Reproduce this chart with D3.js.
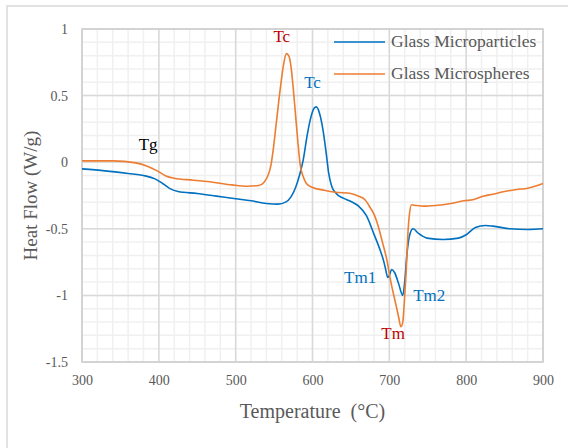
<!DOCTYPE html>
<html>
<head>
<meta charset="utf-8">
<script src="https://cdn.jsdelivr.net/npm/d3@7"></script>
<style>
  body { margin: 0; background: #fff; }
  svg text { font-family: "Liberation Serif", "DejaVu Serif", serif; }
</style>
</head>
<body>
<div id="dsc"></div>
<script>
// temperature (C) and heat flow (W/g)
var particlesTemp = [300, 330, 360, 380, 395, 405, 415, 425, 450, 475, 500, 520, 540, 555, 565, 572, 578, 583, 588, 593, 598, 602, 605, 609, 614, 618, 621, 625, 630, 640, 650, 660, 670, 680, 688, 693, 695, 698, 700, 703, 707, 712, 717.5, 720, 723, 727, 731, 738, 749, 770, 790, 800, 812, 825, 835, 857, 880, 900];
var particlesFlow = [-0.05, -0.065, -0.085, -0.1, -0.125, -0.16, -0.2, -0.22, -0.235, -0.255, -0.275, -0.29, -0.31, -0.315, -0.3, -0.26, -0.19, -0.1, 0.02, 0.2, 0.34, 0.405, 0.415, 0.37, 0.23, 0.06, -0.08, -0.18, -0.23, -0.27, -0.295, -0.33, -0.4, -0.54, -0.66, -0.75, -0.8, -0.866, -0.85, -0.806, -0.83, -0.91, -1.0, -0.9, -0.685, -0.535, -0.5, -0.535, -0.57, -0.58, -0.57, -0.545, -0.49, -0.475, -0.48, -0.5, -0.505, -0.5];

var spheresTemp = [300, 340, 370, 385, 398, 410, 420, 445, 470, 495, 515, 530, 537, 542, 546, 549, 553, 558, 562, 566, 569, 572, 575, 578, 581, 584, 588, 592, 600, 615, 630, 650, 660, 668, 675, 680, 686, 691, 697, 701, 705, 709, 712, 715, 717.5, 720, 722, 724, 726, 729, 735, 745, 760, 780, 797, 810, 822, 835, 850, 866, 880, 900];
var spheresFlow = [0.01, 0.01, -0.005, -0.03, -0.065, -0.105, -0.12, -0.135, -0.15, -0.17, -0.18, -0.175, -0.15, -0.1, -0.02, 0.1, 0.3, 0.55, 0.72, 0.815, 0.8, 0.72, 0.55, 0.35, 0.15, -0.02, -0.11, -0.16, -0.19, -0.21, -0.225, -0.235, -0.255, -0.28, -0.34, -0.39, -0.49, -0.6, -0.74, -0.87, -0.98, -1.08, -1.16, -1.235, -1.2, -1.0, -0.81, -0.55, -0.4, -0.32, -0.325, -0.33, -0.325, -0.31, -0.29, -0.28, -0.255, -0.24, -0.22, -0.205, -0.195, -0.16];

var seriesNames = ["Glass Microparticles", "Glass Microspheres"];
var seriesColors = ["#0070C0", "#ED7D31"];
var xTicks = [300, 400, 500, 600, 700, 800, 900];
var yTicks = [1, 0.5, 0, -0.5, -1, -1.5];

// peak annotations: label, temperature, heat flow position, colour
var notes = [
  ["Tg", 386, 0.09, "#000000"],
  ["Tc", 560, 0.9, "#C00000"],
  ["Tc", 600, 0.56, "#0070C0"],
  ["Tm1", 662, -0.91, "#0070C0"],
  ["Tm2", 752, -1.04, "#0070C0"],
  ["Tm", 705, -1.33, "#C00000"]
];

var svgWidth = 568;
var svgHeight = 448;
var serif = "'Liberation Serif', 'DejaVu Serif', serif";
var container = d3.select("#dsc")
    .append("svg")
    .attr("width", svgWidth)
    .attr("height", svgHeight)
    .attr("font-family", serif);

// chart area frame
container.append("rect")
    .attr("x", 7)
    .attr("y", 6)
    .attr("width", 580)
    .attr("height", 460)
    .attr("fill", "none")
    .attr("stroke", "#d9d9d9")
    .attr("stroke-width", 1.5);

var margins = {top: 29, right: 25, bottom: 86, left: 82};
var width = svgWidth - margins.left - margins.right;
var height = svgHeight - margins.top - margins.bottom;

var canvas = container.append("g")
    .attr("transform", "translate(" + margins.left + "," + margins.top + ")");

var xScale = d3.scaleLinear().domain([300, 900]).range([0, width]);
var yScale = d3.scaleLinear().domain([-1.5, 1]).range([height, 0]);

// minor grid
canvas.append("g")
    .selectAll("line")
    .data(d3.range(300, 901, 20))
    .enter().append("line")
    .attr("x1", d => xScale(d)).attr("x2", d => xScale(d))
    .attr("y1", 0).attr("y2", height)
    .attr("stroke", "#f0f0f0").attr("stroke-width", 1.5);
canvas.append("g")
    .selectAll("line")
    .data(d3.range(-15, 11, 1).map(d => d / 10))
    .enter().append("line")
    .attr("x1", 0).attr("x2", width)
    .attr("y1", d => yScale(d)).attr("y2", d => yScale(d))
    .attr("stroke", "#f0f0f0").attr("stroke-width", 1.5);

// major grid
canvas.append("g")
    .selectAll("line")
    .data(xTicks)
    .enter().append("line")
    .attr("x1", d => xScale(d)).attr("x2", d => xScale(d))
    .attr("y1", 0).attr("y2", height)
    .attr("stroke", "#d9d9d9").attr("stroke-width", 1.5);
canvas.append("g")
    .selectAll("line")
    .data(yTicks)
    .enter().append("line")
    .attr("x1", 0).attr("x2", width)
    .attr("y1", d => yScale(d)).attr("y2", d => yScale(d))
    .attr("stroke", "#d9d9d9").attr("stroke-width", 1.5);

canvas.append("rect")
    .attr("width", width)
    .attr("height", height)
    .attr("fill", "none")
    .attr("stroke", "#d0d0d0")
    .attr("stroke-width", 1.5);

// axes
var xAxis = d3.axisBottom(xScale).tickValues(xTicks).tickSize(0).tickPadding(13);
var yAxis = d3.axisLeft(yScale).tickValues(yTicks).tickSize(0).tickPadding(14)
    .tickFormat(d => d3.format("")(d).replace("\u2212", "-"));

var xAxisGroup = canvas.append("g")
    .attr("transform", "translate(0," + height + ")")
    .call(xAxis);
var yAxisGroup = canvas.append("g").call(yAxis);

[xAxisGroup, yAxisGroup].forEach(function(g) {
  g.attr("font-family", serif).attr("font-size", 14);
  g.select(".domain").remove();
  g.selectAll("text").attr("fill", "#595959");
});

// curves
var seriesData = [
  d3.zip(particlesTemp, particlesFlow),
  d3.zip(spheresTemp, spheresFlow)
];
var line = d3.line()
    .x(d => xScale(d[0]))
    .y(d => yScale(d[1]))
    .curve(d3.curveMonotoneX);

canvas.selectAll("path.series")
    .data(seriesData)
    .enter().append("path")
    .attr("class", "series")
    .attr("d", line)
    .attr("fill", "none")
    .attr("stroke", (d, i) => seriesColors[i])
    .attr("stroke-width", 1.6);

// legend
var legend = canvas.append("g")
    .attr("transform", "translate(252,13)");
seriesNames.forEach(function(name, i) {
  legend.append("line")
      .attr("x1", 0).attr("x2", 51)
      .attr("y1", i * 32).attr("y2", i * 32)
      .attr("stroke", seriesColors[i])
      .attr("stroke-width", 1.6);
  legend.append("text")
      .attr("x", 57)
      .attr("y", i * 32 + 5)
      .attr("font-size", 17.5)
      .attr("fill", "#595959")
      .text(name);
});

// annotations
canvas.selectAll("text.note")
    .data(notes)
    .enter().append("text")
    .attr("class", "note")
    .attr("x", d => xScale(d[1]))
    .attr("y", d => yScale(d[2]))
    .attr("text-anchor", "middle")
    .attr("font-size", 17)
    .attr("fill", d => d[3])
    .text(d => d[0]);

// axis titles
container.append("text")
    .attr("transform", "translate(37," + (margins.top + height / 2) + ") rotate(-90)")
    .attr("text-anchor", "middle")
    .attr("font-size", 19)
    .attr("fill", "#595959")
    .text("Heat Flow (W/g)");

container.append("text")
    .attr("x", margins.left + width / 2)
    .attr("y", 418)
    .attr("text-anchor", "middle")
    .attr("font-size", 20)
    .attr("fill", "#595959")
    .style("white-space", "pre")
    .text("Temperature  (\u00B0C)");
</script>
</body>
</html>
